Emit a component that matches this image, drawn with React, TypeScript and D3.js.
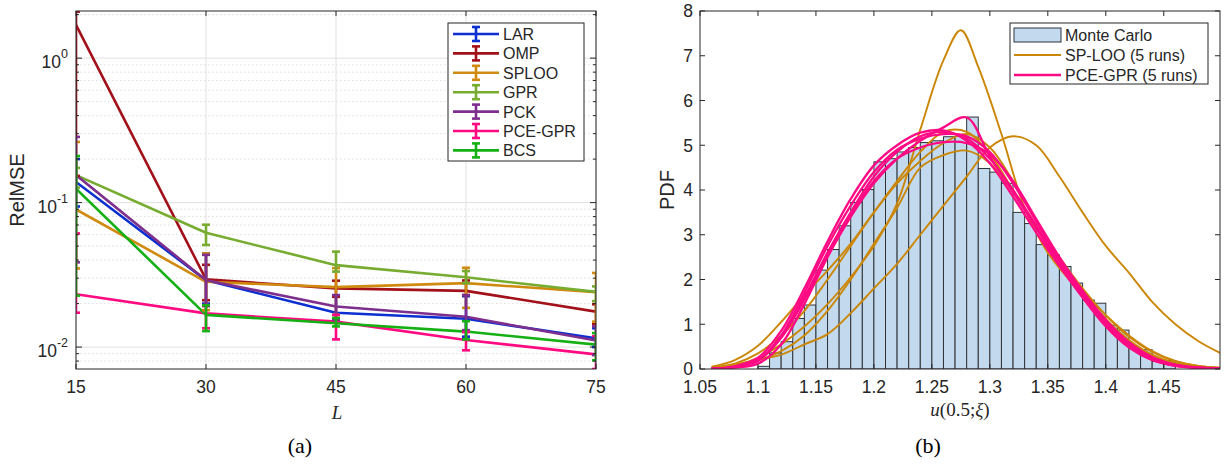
import React from "react";
import * as d3 from "d3";

// ---- panel (a): RelMSE vs L ----
const Ls = [15, 30, 45, 60, 75];
const methodNames = ["LAR", "OMP", "SPLOO", "GPR", "PCK", "PCE-GPR", "BCS"];
const methodColors = ["#0b2fd0", "#a2101a", "#d08a10", "#77ac30", "#7e2f8e", "#ff0a80", "#14b014"];

const larMean = [0.139, 0.029, 0.0173, 0.0157, 0.0115];
const larLow = [0.094, 0.02, 0.0155, 0.0118, 0.01];
const larHigh = [0.2, 0.0445, 0.0223, 0.0225, 0.0135];

const ompMean = [1.7, 0.0294, 0.0255, 0.0245, 0.0176];
const ompLow = [0.153, 0.0211, 0.0223, 0.0229, 0.0144];
const ompHigh = [2.1, 0.0371, 0.0288, 0.0289, 0.0198];

const splooMean = [0.0897, 0.0283, 0.026, 0.0277, 0.024];
const splooLow = [0.035, 0.018, 0.0167, 0.0187, 0.015];
const splooHigh = [0.263, 0.0445, 0.0352, 0.0354, 0.0326];

const gprMean = [0.155, 0.0618, 0.0369, 0.0304, 0.0241];
const gprLow = [0.127, 0.0509, 0.0333, 0.0277, 0.0208];
const gprHigh = [0.174, 0.0703, 0.0458, 0.0336, 0.0263];

const pckMean = [0.155, 0.029, 0.0191, 0.0162, 0.0111];
const pckLow = [0.0386, 0.0192, 0.0155, 0.0131, 0.0088];
const pckHigh = [0.285, 0.0435, 0.0229, 0.0229, 0.0139];

const pceGprMean = [0.0232, 0.0171, 0.015, 0.0112, 0.0089];
const pceGprLow = [0.0173, 0.0135, 0.0113, 0.0095, 0.00705];
const pceGprHigh = [0.0612, 0.0195, 0.0167, 0.0127, 0.0119];

const bcsMean = [0.125, 0.0167, 0.0146, 0.0128, 0.0104];
const bcsLow = [0.0227, 0.0129, 0.0139, 0.0113, 0.0081];
const bcsHigh = [0.21, 0.0195, 0.0159, 0.0151, 0.0125];

// ---- panel (b): PDF of u(0.5; xi) ----
const binLeft = [1.1, 1.11, 1.12, 1.13, 1.14, 1.15, 1.16, 1.17, 1.18, 1.19, 1.2, 1.21, 1.22, 1.23, 1.24, 1.25, 1.26, 1.27, 1.28, 1.29, 1.3, 1.31, 1.32, 1.33, 1.34, 1.35, 1.36, 1.37, 1.38, 1.39, 1.4, 1.41, 1.42, 1.43, 1.44, 1.45];
const binHeight = [0.06, 0.36, 0.61, 1.13, 1.43, 2.21, 2.67, 3.2, 3.72, 4.01, 4.63, 4.7, 4.85, 4.95, 5.06, 5.1, 5.19, 5.2, 5.63, 4.48, 4.4, 4.15, 3.5, 3.25, 2.78, 2.55, 2.29, 1.92, 1.54, 1.47, 0.98, 0.87, 0.47, 0.43, 0.17, 0.19];
const binWidth = 0.01;

const kdeX = [1.06, 1.08, 1.1, 1.12, 1.14, 1.16, 1.18, 1.2, 1.22, 1.24, 1.26, 1.28, 1.3, 1.32, 1.34, 1.36, 1.38, 1.4, 1.42, 1.44, 1.46, 1.48, 1.4985];

const spTallX = [1.06, 1.08, 1.1, 1.12, 1.14, 1.16, 1.18, 1.2, 1.22, 1.24, 1.26, 1.275, 1.29, 1.31, 1.33, 1.35, 1.37, 1.39, 1.41, 1.43, 1.45, 1.47, 1.4985];
const spTall = [0.02, 0.08, 0.25, 0.55, 0.95, 1.45, 2.05, 2.75, 3.7, 5.35, 6.9, 7.57, 6.75, 5.25, 3.6, 2.6, 1.95, 1.4, 0.85, 0.42, 0.18, 0.07, 0.02];
const spRun2 = [0.05, 0.2, 0.52, 1.05, 1.65, 2.2, 2.8, 3.5, 4.2, 4.85, 5.3, 5.3, 4.8, 4.0, 3.2, 2.4, 1.7, 1.1, 0.65, 0.32, 0.13, 0.05, 0.02];
const spRun3 = [0.03, 0.12, 0.35, 0.75, 1.3, 2.0, 2.75, 3.5, 4.15, 4.65, 5.05, 5.25, 4.95, 4.2, 3.3, 2.5, 1.8, 1.2, 0.72, 0.38, 0.17, 0.07, 0.03];
const spRun4 = [0.02, 0.08, 0.2, 0.4, 0.75, 1.3, 2.0, 2.8, 3.6, 4.5, 4.78, 4.88, 4.6, 3.95, 3.15, 2.4, 1.75, 1.2, 0.75, 0.4, 0.18, 0.07, 0.03];
const spRun5 = [0.03, 0.1, 0.2, 0.32, 0.55, 0.78, 1.25, 1.8, 2.35, 3.0, 3.65, 4.3, 4.95, 5.2, 5.0, 4.3, 3.5, 2.75, 2.15, 1.5, 1.0, 0.62, 0.36];

const gprRun1 = [0.005, 0.03, 0.12, 0.55, 1.45, 2.5, 3.4, 4.15, 4.7, 5.1, 5.4, 5.62, 4.75, 3.95, 3.15, 2.35, 1.6, 0.95, 0.48, 0.2, 0.07, 0.03, 0.02];
const gprRun2 = [0.01, 0.04, 0.18, 0.7, 1.6, 2.6, 3.5, 4.3, 4.85, 5.2, 5.3, 5.15, 4.7, 4.0, 3.2, 2.4, 1.65, 1.0, 0.52, 0.22, 0.08, 0.03, 0.01];
const gprRun3 = [0.01, 0.05, 0.2, 0.75, 1.7, 2.75, 3.65, 4.4, 4.9, 5.15, 5.25, 5.2, 4.85, 4.15, 3.3, 2.45, 1.7, 1.05, 0.55, 0.25, 0.09, 0.03, 0.01];
const gprRun4 = [0.01, 0.05, 0.2, 0.7, 1.55, 2.55, 3.45, 4.2, 4.7, 4.95, 5.07, 5.05, 4.8, 4.2, 3.35, 2.5, 1.75, 1.1, 0.6, 0.27, 0.1, 0.03, 0.01];
const gprRun5 = [0.01, 0.06, 0.25, 0.85, 1.8, 2.85, 3.8, 4.55, 5.0, 5.28, 5.33, 5.1, 4.6, 3.85, 3.05, 2.3, 1.6, 0.98, 0.5, 0.2, 0.07, 0.02, 0.01];

const xTicksB = [1.05, 1.1, 1.15, 1.2, 1.25, 1.3, 1.35, 1.4, 1.45];
const yTicksB = [0, 1, 2, 3, 4, 5, 6, 7, 8];
const legendB = ["Monte Carlo", "SP-LOO (5 runs)", "PCE-GPR (5 runs)"];

const SANS = "'Liberation Sans', Arial, Helvetica, sans-serif";
const SERIF = "'Liberation Serif', 'Times New Roman', serif";
const AXIS = "#262626";
const SP_COLOR = "#cc8605";
const PINK = "#ff0a85";
const BAR_FILL = "#c3daee";

export default function App() {
  const x1 = d3.scaleLinear().domain([15, 75]).range([76, 596]);
  const y1 = d3.scaleLog().domain([0.00705, 2.12]).range([369, 11]);
  const x2 = d3.scaleLinear().domain([1.05, 1.4985]).range([700, 1220]);
  const y2 = d3.scaleLinear().domain([0, 8]).range([369, 11]);

  const series = [
    [larMean, larLow, larHigh],
    [ompMean, ompLow, ompHigh],
    [splooMean, splooLow, splooHigh],
    [gprMean, gprLow, gprHigh],
    [pckMean, pckLow, pckHigh],
    [pceGprMean, pceGprLow, pceGprHigh],
    [bcsMean, bcsLow, bcsHigh],
  ];

  const line1 = d3.line<number>().x((_, i) => x1(Ls[i])).y((d) => y1(d));

  const majorY = [0.01, 0.1, 1];
  const minorY: number[] = [];
  [0.001, 0.01, 0.1, 1].forEach((dec) => {
    for (let k = 2; k <= 9; k++) {
      const v = dec * k;
      if (v > 0.00705 && v < 2.12) minorY.push(v);
    }
  });

  const [aL, aR, aT, aB] = [76, 596, 11, 369];
  const [bL, bR, bT, bB] = [700, 1220, 11, 369];

  const kdeLine = d3
    .line<[number, number]>()
    .x((d) => x2(d[0]))
    .y((d) => y2(d[1]))
    .curve(d3.curveCatmullRom.alpha(0.5));

  const spRuns: [number, number][][] = [
    spTallX.map((x, i) => [x, spTall[i]]),
    kdeX.map((x, i) => [x, spRun2[i]]),
    kdeX.map((x, i) => [x, spRun3[i]]),
    kdeX.map((x, i) => [x, spRun4[i]]),
    kdeX.map((x, i) => [x, spRun5[i]]),
  ];
  const gprRuns: [number, number][][] = [gprRun1, gprRun2, gprRun3, gprRun4, gprRun5].map((r) =>
    kdeX.map((x, i) => [x, r[i]] as [number, number])
  );

  const capW = 4;

  return (
    <svg
      width={1229}
      height={464}
      style={{ position: "absolute", left: 0, top: 0, background: "#fff" }}
      fontFamily={SANS}
    >
      <defs>
        <clipPath id="clipA">
          <rect x={aL} y={aT} width={aR - aL} height={aB - aT} />
        </clipPath>
        <clipPath id="clipB">
          <rect x={bL} y={bT} width={bR - bL} height={bB - bT} />
        </clipPath>
      </defs>

      {/* ===== panel (a) ===== */}
      <rect x={aL} y={aT} width={aR - aL} height={aB - aT} fill="#fff" />
      {minorY.map((v) => (
        <line key={"mg" + v} x1={aL} x2={aR} y1={y1(v)} y2={y1(v)} stroke="#d4d4d4" strokeWidth={0.8} strokeDasharray="1.5,2.5" />
      ))}
      {majorY.map((v) => (
        <line key={"Mg" + v} x1={aL} x2={aR} y1={y1(v)} y2={y1(v)} stroke="#e0e0e0" strokeWidth={1} />
      ))}
      {Ls.map((v) => (
        <line key={"vg" + v} x1={x1(v)} x2={x1(v)} y1={aT} y2={aB} stroke="#e0e0e0" strokeWidth={1} />
      ))}

      <g clipPath="url(#clipA)">
        {series.map(([mean], si) => (
          <path key={"ln" + si} d={line1(mean) || ""} fill="none" stroke={methodColors[si]} strokeWidth={2.6} strokeLinejoin="round" />
        ))}
        {series.map(([mean, lo, hi], si) => (
          <g key={"eb" + si} stroke={methodColors[si]} strokeWidth={2.6}>
            {mean.map((_, i) => (
              <g key={i}>
                <line x1={x1(Ls[i])} x2={x1(Ls[i])} y1={y1(lo[i])} y2={y1(hi[i])} />
                <line x1={x1(Ls[i]) - capW} x2={x1(Ls[i]) + capW} y1={y1(lo[i])} y2={y1(lo[i])} />
                <line x1={x1(Ls[i]) - capW} x2={x1(Ls[i]) + capW} y1={y1(hi[i])} y2={y1(hi[i])} />
              </g>
            ))}
          </g>
        ))}
      </g>

      {/* axes box and ticks (a) */}
      <rect x={aL} y={aT} width={aR - aL} height={aB - aT} fill="none" stroke={AXIS} strokeWidth={1} />
      {Ls.map((v) => (
        <g key={"xt" + v} stroke={AXIS}>
          <line x1={x1(v)} x2={x1(v)} y1={aB} y2={aB - 5} />
          <line x1={x1(v)} x2={x1(v)} y1={aT} y2={aT + 5} />
        </g>
      ))}
      {majorY.map((v) => (
        <g key={"yt" + v} stroke={AXIS}>
          <line x1={aL} x2={aL + 6} y1={y1(v)} y2={y1(v)} />
          <line x1={aR} x2={aR - 6} y1={y1(v)} y2={y1(v)} />
        </g>
      ))}
      {minorY.map((v) => (
        <g key={"ymt" + v} stroke={AXIS}>
          <line x1={aL} x2={aL + 3} y1={y1(v)} y2={y1(v)} />
          <line x1={aR} x2={aR - 3} y1={y1(v)} y2={y1(v)} />
        </g>
      ))}
      {Ls.map((v) => (
        <text key={"xl" + v} x={x1(v)} y={393} textAnchor="middle" fontSize={17.5} fill={AXIS}>
          {v}
        </text>
      ))}
      {majorY.map((v) => (
        <text key={"yl" + v} x={68} y={y1(v) + 10} textAnchor="end" fontSize={17.5} fill={AXIS}>
          10
          <tspan dy={-10} fontSize={12.5}>
            {Math.round(Math.log10(v))}
          </tspan>
        </text>
      ))}
      <text transform={`translate(24,190) rotate(-90)`} textAnchor="middle" fontSize={20} fill={AXIS}>
        RelMSE
      </text>
      <text x={337} y={419} textAnchor="middle" fontSize={19} fontStyle="italic" fontFamily={SERIF} fill={AXIS}>
        L
      </text>

      {/* legend (a) */}
      <rect x={448} y={23} width={136} height={138} fill="#fff" stroke={AXIS} strokeWidth={1} />
      {methodNames.map((name, i) => {
        const cy = 34 + i * 19.4;
        return (
          <g key={"lg" + name}>
            <g stroke={methodColors[i]} strokeWidth={2.6}>
              <line x1={453} x2={499} y1={cy} y2={cy} />
              <line x1={476} x2={476} y1={cy - 7} y2={cy + 7} />
              <line x1={472} x2={480} y1={cy - 7} y2={cy - 7} />
              <line x1={472} x2={480} y1={cy + 7} y2={cy + 7} />
            </g>
            <text x={503} y={cy + 6} fontSize={16} fill={AXIS}>
              {name}
            </text>
          </g>
        );
      })}

      <text x={300} y={453} textAnchor="middle" fontSize={22} fontFamily={SERIF} fill="#000">
        (a)
      </text>

      {/* ===== panel (b) ===== */}
      <rect x={bL} y={bT} width={bR - bL} height={bB - bT} fill="#fff" />
      <g clipPath="url(#clipB)">
        {binLeft.map((b, i) => (
          <rect
            key={"bin" + i}
            x={x2(b)}
            y={y2(binHeight[i])}
            width={x2(b + binWidth) - x2(b)}
            height={y2(0) - y2(binHeight[i])}
            fill={BAR_FILL}
            stroke="#2e3338"
            strokeWidth={1}
          />
        ))}
        {spRuns.map((r, i) => (
          <path key={"sp" + i} d={kdeLine(r) || ""} fill="none" stroke={SP_COLOR} strokeWidth={1.9} />
        ))}
        {gprRuns.map((r, i) => (
          <path key={"gp" + i} d={kdeLine(r) || ""} fill="none" stroke={PINK} strokeWidth={2.3} />
        ))}
      </g>

      <rect x={bL} y={bT} width={bR - bL} height={bB - bT} fill="none" stroke={AXIS} strokeWidth={1} />
      {xTicksB.map((v) => (
        <g key={"bxt" + v} stroke={AXIS}>
          <line x1={x2(v)} x2={x2(v)} y1={bB} y2={bB - 5} />
          <line x1={x2(v)} x2={x2(v)} y1={bT} y2={bT + 5} />
        </g>
      ))}
      {yTicksB.map((v) => (
        <g key={"byt" + v} stroke={AXIS}>
          <line x1={bL} x2={bL + 5} y1={y2(v)} y2={y2(v)} />
          <line x1={bR} x2={bR - 5} y1={y2(v)} y2={y2(v)} />
        </g>
      ))}
      {xTicksB.map((v) => (
        <text key={"bxl" + v} x={x2(v)} y={393} textAnchor="middle" fontSize={17.5} fill={AXIS}>
          {v}
        </text>
      ))}
      {yTicksB.map((v) => (
        <text key={"byl" + v} x={693} y={y2(v) + 6.3} textAnchor="end" fontSize={17.5} fill={AXIS}>
          {v}
        </text>
      ))}
      <text transform={`translate(674,190) rotate(-90)`} textAnchor="middle" fontSize={20} fill={AXIS}>
        PDF
      </text>
      <text x={960} y={416} textAnchor="middle" fontSize={19} fontFamily={SERIF} fill={AXIS}>
        <tspan fontStyle="italic">u</tspan>(0.5;<tspan fontStyle="italic">ξ</tspan>)
      </text>

      {/* legend (b) */}
      <rect x={1010} y={23} width={198} height={61} fill="#fff" stroke={AXIS} strokeWidth={1} />
      <rect x={1014} y={28} width={47} height={14} fill={BAR_FILL} stroke="#2e3338" strokeWidth={1} />
      <line x1={1014} x2={1061} y1={55} y2={55} stroke={SP_COLOR} strokeWidth={1.9} />
      <line x1={1014} x2={1061} y1={75} y2={75} stroke={PINK} strokeWidth={2.3} />
      {legendB.map((t, i) => (
        <text key={"lb" + t} x={1065} y={35 + i * 20 + 6} fontSize={16} fill={AXIS}>
          {t}
        </text>
      ))}

      <text x={928} y={453} textAnchor="middle" fontSize={22} fontFamily={SERIF} fill="#000">
        (b)
      </text>
    </svg>
  );
}
